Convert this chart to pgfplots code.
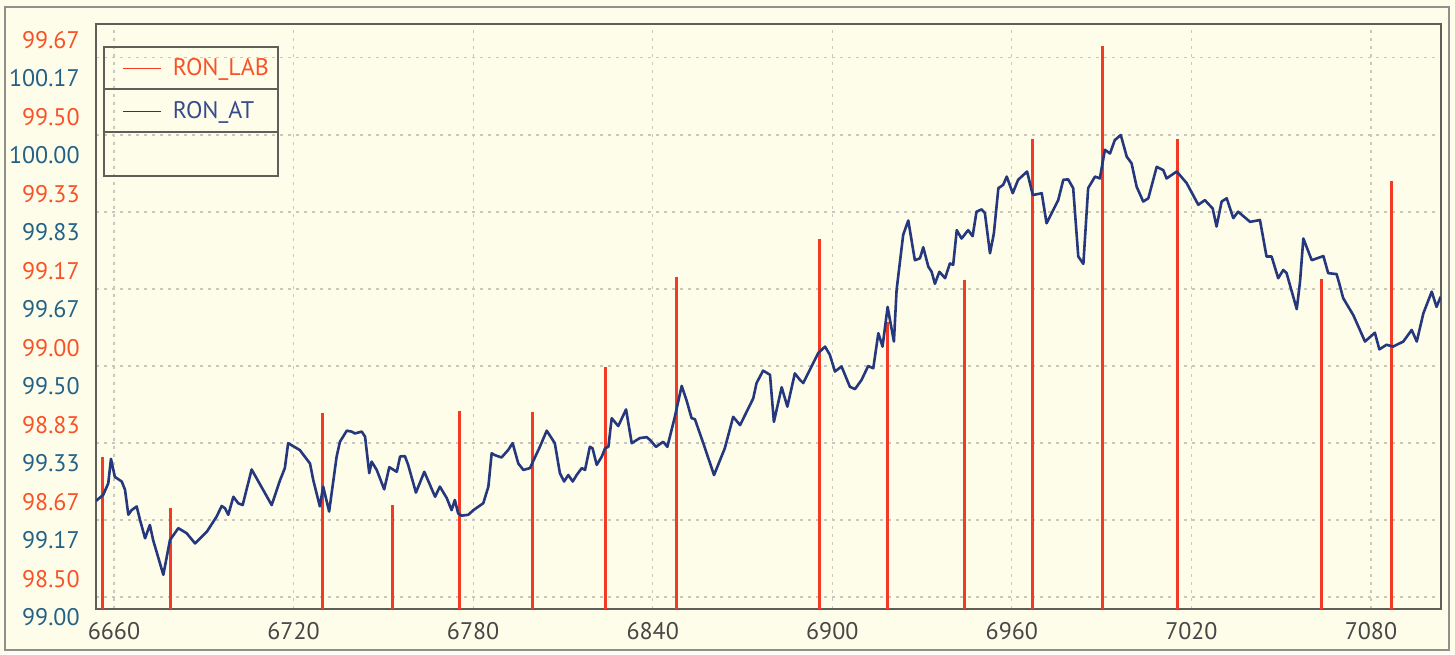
\documentclass[border=0pt]{standalone}
\usepackage{fontspec}
\setmainfont{PT Sans}
\usepackage{pgfplots}
\pgfplotsset{compat=1.18}

\definecolor{cream}{RGB}{254,253,234}
\definecolor{labred}{RGB}{243,58,36}
\definecolor{labtxt}{RGB}{248,82,40}
\definecolor{attxt}{RGB}{35,98,135}
\definecolor{atline}{RGB}{38,56,125}
\definecolor{attext}{RGB}{55,75,140}
\definecolor{gridc}{RGB}{200,200,190}
\definecolor{framec}{RGB}{95,95,90}

\pgfplotsset{
  chartbase/.style={
    width=672.5pt, height=292.5pt, scale only axis,
    xmin=6654.0, xmax=7103.4,
    tick style={draw=none},
    ticklabel style={font=\fontsize{12}{14}\selectfont, inner sep=0pt},
  },
}

\begin{document}
\begin{tikzpicture}
\fill[cream] (-48pt,-22.5pt) rectangle (679.5pt,304.5pt);
\draw[framec!70, line width=1.2pt] (-45.5pt,-20.5pt) rectangle (676.5pt,301pt);

% RON_LAB scale (orange labels), grid and frame
\begin{axis}[chartbase,
  ymin=98.474, ymax=99.740,
  ytick={98.5,98.66667,98.83333,99,99.16667,99.33333,99.5,99.66667},
  yticklabels={98.50,98.67,98.83,99.00,99.17,99.33,99.50,99.67},
  yticklabel style={text=labtxt, anchor=east, xshift=-8pt, yshift=9pt},
  xtick={6660,6720,6780,6840,6900,6960,7020,7080},
  xticklabels={6660,6720,6780,6840,6900,6960,7020,7080},
  xticklabel style={text=black!72, anchor=north, yshift=-6.5pt},
  xmajorgrids, ymajorgrids,
  major grid style={gridc, line width=0.6pt, dash pattern=on 1.6pt off 2.4pt},
  axis line style={framec, line width=1pt},
]
\addplot[ycomb, draw=labred, line width=1.5pt] coordinates {
  (6656.3,98.803) (6679.0,98.693) (6729.8,98.898) (6753.2,98.699)
  (6775.6,98.903) (6799.7,98.900) (6824.4,98.998) (6848.1,99.193)
  (6895.6,99.275) (6918.6,99.095) (6944.3,99.186) (6967.0,99.491)
  (6990.4,99.693) (7015.5,99.491) (7063.6,99.188) (7086.7,99.400)
};
\end{axis}

% RON_AT scale (teal labels), line and legend
\begin{axis}[chartbase,
  ymin=98.974, ymax=100.2403,
  ytick={99,99.16667,99.33333,99.5,99.66667,99.83333,100,100.16667},
  yticklabels={99.00,99.17,99.33,99.50,99.67,99.83,100.00,100.17},
  yticklabel style={text=attxt, anchor=east, xshift=-8pt, yshift=-10pt},
  xtick=\empty,
  axis line style={draw=none},
  legend style={at={(0.0052,0.9624)}, anchor=north west,
    draw=framec, line width=0.8pt, fill=none,
    inner sep=0pt, row sep=0pt, column sep=0pt,
    font=\fontsize{12}{14}\selectfont, nodes={inner sep=0pt, draw=none}},
  legend cell align=left,
  legend image code/.code={
    \path[draw=none, fill=none] (0pt,-10.75pt) rectangle (34.5pt,10.75pt);
    \draw[#1, line width=0.7pt] (9.5pt,0pt) -- (28.5pt,0pt);},
]
\addlegendimage{draw=labred}
\addlegendentry[text=labtxt, text width=52.5pt]{RON\_LAB}
\addplot[draw=atline, line width=1.3pt, line join=round] coordinates {
(6654.0,99.208) (6656.4,99.221) (6658.1,99.246) (6659.0,99.299) (6660.3,99.260)
(6662.6,99.250) (6663.7,99.232) (6664.8,99.178) (6665.9,99.188) (6667.6,99.196)
(6668.7,99.167) (6670.4,99.127) (6672.0,99.156) (6673.1,99.123) (6676.5,99.048)
(6678.7,99.123) (6681.5,99.149) (6684.3,99.138) (6687.1,99.116) (6691.0,99.141)
(6694.3,99.174) (6696.0,99.197) (6697.1,99.192) (6698.2,99.178) (6699.9,99.217)
(6701.5,99.203) (6703.0,99.199) (6706.0,99.276) (6712.7,99.199) (6715.5,99.253)
(6717.1,99.279) (6718.2,99.333) (6722.1,99.318) (6725.5,99.289) (6726.6,99.253)
(6728.8,99.196) (6729.9,99.239) (6731.9,99.185) (6734.4,99.304) (6735.5,99.336)
(6737.8,99.360) (6739.4,99.358) (6740.5,99.354) (6742.8,99.358) (6743.9,99.347)
(6745.3,99.268) (6746.1,99.293) (6747.8,99.275) (6750.3,99.233) (6752.0,99.281)
(6754.5,99.271) (6755.6,99.304) (6757.2,99.305) (6758.3,99.286) (6760.9,99.226)
(6763.7,99.271) (6767.3,99.217) (6768.9,99.239) (6771.2,99.214) (6772.8,99.188)
(6773.9,99.210) (6775.0,99.181) (6776.2,99.176) (6778.4,99.178) (6780.1,99.188)
(6783.4,99.203) (6785.1,99.239) (6786.2,99.311) (6787.3,99.307) (6789.5,99.302)
(6791.7,99.318) (6793.2,99.333) (6795.1,99.289) (6796.8,99.275) (6799.0,99.279)
(6802.3,99.325) (6804.6,99.360) (6806.2,99.344) (6807.3,99.333) (6809.0,99.268)
(6810.4,99.250) (6811.8,99.264) (6813.3,99.250) (6814.6,99.264) (6816.3,99.279)
(6817.4,99.275) (6819.0,99.325) (6819.9,99.322) (6821.3,99.286) (6823.0,99.304)
(6824.1,99.322) (6825.2,99.325) (6826.3,99.387) (6828.5,99.370) (6831.1,99.406)
(6833.0,99.333) (6835.7,99.344) (6838.0,99.346) (6839.1,99.340) (6841.1,99.325)
(6843.5,99.336) (6844.9,99.325) (6847.4,99.390) (6849.7,99.457) (6851.3,99.426)
(6853.0,99.387) (6854.1,99.385) (6856.9,99.333) (6860.5,99.264) (6864.1,99.322)
(6866.9,99.390) (6869.2,99.372) (6873.6,99.430) (6874.7,99.463) (6876.9,99.490)
(6879.2,99.481) (6880.5,99.379) (6883.1,99.454) (6885.0,99.412) (6887.5,99.484)
(6889.2,99.470) (6890.3,99.463) (6895.3,99.528) (6897.6,99.542) (6899.2,99.524)
(6900.9,99.488) (6903.1,99.499) (6905.9,99.455) (6907.6,99.450) (6909.8,99.470)
(6912.0,99.500) (6913.7,99.495) (6915.4,99.571) (6916.8,99.542) (6918.5,99.628)
(6919.5,99.592) (6920.6,99.553) (6921.5,99.665) (6923.7,99.784) (6925.4,99.815)
(6927.6,99.729) (6929.3,99.733) (6930.4,99.757) (6932.1,99.715) (6933.2,99.704)
(6934.3,99.678) (6935.8,99.704) (6937.7,99.690) (6939.3,99.722) (6940.4,99.719)
(6941.6,99.794) (6943.2,99.776) (6945.4,99.794) (6946.9,99.781) (6948.2,99.834)
(6949.9,99.839) (6951.0,99.831) (6952.7,99.744) (6954.0,99.787) (6955.5,99.885)
(6957.1,99.892) (6958.3,99.910) (6960.3,99.874) (6962.1,99.903) (6965.1,99.921)
(6967.0,99.870) (6970.0,99.874) (6971.6,99.809) (6975.5,99.859) (6977.2,99.903)
(6978.8,99.904) (6980.5,99.885) (6982.2,99.737) (6983.9,99.721) (6985.5,99.885)
(6987.8,99.910) (6989.4,99.906) (6991.1,99.968) (6992.8,99.960) (6994.4,99.989)
(6996.4,100.000) (6998.4,99.953) (7000.0,99.939) (7001.7,99.888) (7003.9,99.856)
(7005.6,99.863) (7008.4,99.931) (7010.6,99.924) (7011.7,99.906) (7015.1,99.921)
(7018.4,99.896) (7022.3,99.849) (7024.5,99.859) (7027.1,99.841) (7028.4,99.802)
(7030.1,99.856) (7031.8,99.863) (7034.0,99.820) (7035.6,99.834) (7039.6,99.812)
(7042.9,99.816) (7045.1,99.737) (7046.8,99.737) (7049.0,99.690) (7050.7,99.708)
(7051.8,99.701) (7055.2,99.623) (7056.3,99.683) (7057.4,99.776) (7060.2,99.729)
(7064.1,99.738) (7065.7,99.701) (7068.5,99.699) (7069.4,99.679) (7070.7,99.647)
(7074.1,99.610) (7078.0,99.553) (7081.3,99.572) (7082.8,99.536) (7085.2,99.546)
(7087.4,99.542) (7090.8,99.553) (7093.6,99.578) (7095.3,99.553) (7097.5,99.614)
(7100.3,99.661) (7101.9,99.628) (7103.3,99.650)
};
\addlegendentry[text=attext]{RON\_AT}
\addlegendimage{draw opacity=0}
\addlegendentry{}
% rules between the legend rows
\draw[framec, line width=0.8pt] (axis description cs:0.0052,0.88889) -- (axis description cs:0.13457,0.88889);
\draw[framec, line width=0.8pt] (axis description cs:0.0052,0.81538) -- (axis description cs:0.13457,0.81538);
\end{axis}
\pgfresetboundingbox
\path[use as bounding box] (-48pt,-22.5pt) rectangle (679.5pt,304.5pt);
\end{tikzpicture}
\end{document}
